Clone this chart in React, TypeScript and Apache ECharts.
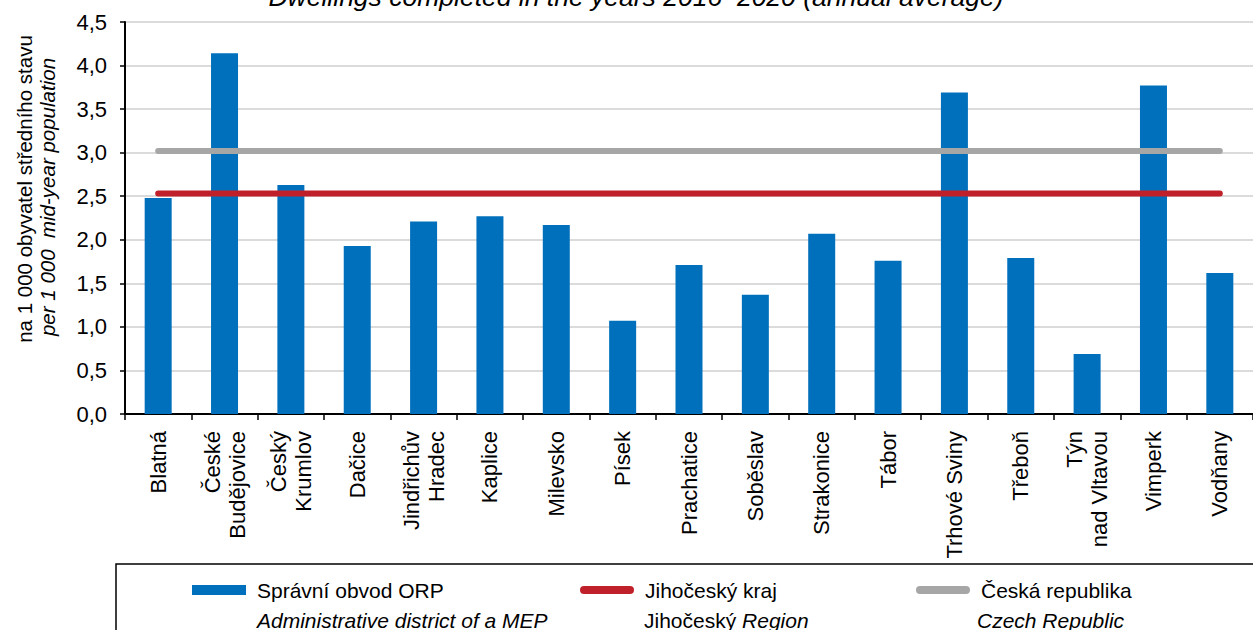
import React, { useEffect, useRef } from "react";
import * as echarts from "echarts";

const categories = [
  "Blatná",
  "České\nBudějovice",
  "Český\nKrumlov",
  "Dačice",
  "Jindřichův\nHradec",
  "Kaplice",
  "Milevsko",
  "Písek",
  "Prachatice",
  "Soběslav",
  "Strakonice",
  "Tábor",
  "Trhové Sviny",
  "Třeboň",
  "Týn\nnad Vltavou",
  "Vimperk",
  "Vodňany",
];

const districtValues = [2.48, 4.14, 2.63, 1.93, 2.21, 2.27, 2.17, 1.07, 1.71, 1.37, 2.07, 1.76, 3.69, 1.79, 0.69, 3.77, 1.62];
const regionValues = [2.53, 2.53, 2.53, 2.53, 2.53, 2.53, 2.53, 2.53, 2.53, 2.53, 2.53, 2.53, 2.53, 2.53, 2.53, 2.53, 2.53];
const czechValues = [3.02, 3.02, 3.02, 3.02, 3.02, 3.02, 3.02, 3.02, 3.02, 3.02, 3.02, 3.02, 3.02, 3.02, 3.02, 3.02, 3.02];

const seriesNames = ["Správní obvod ORP", "Jihočeský kraj", "Česká republika"];
const titleText = "Dwellings completed in the years 2016–2020 (annual average)";
const yNameCz = "na 1 000 obyvatel středního stavu";
const yNameEn = "per 1 000  mid-year population";

const FONT = "'Liberation Sans', Arial, Helvetica, sans-serif";
const BLUE = "#0070bc";
const RED = "#c0202a";
const GRAY = "#a6a6a6";
const LINE_ICON = "path://M4,0 L50,0 A4,4 0 0 1 50,8 L4,8 A4,4 0 0 1 4,0 Z";

export default function App() {
  const ref = useRef<HTMLDivElement>(null);

  useEffect(() => {
    if (!ref.current) return;
    const chart = echarts.init(ref.current, null, { renderer: "svg" });
    const legendBase = {
      top: 578,
      padding: 0,
      itemWidth: 54,
      selectedMode: false,
      textStyle: { fontFamily: FONT, fontSize: 21, color: "#000", padding: [0, 0, 0, 6], lineHeight: 24 },
    };
    chart.setOption({
      animation: false,
      backgroundColor: "#fff",
      grid: { left: 125, right: 0, top: 22, bottom: 216, containLabel: false },
      legend: [
        { ...legendBase, left: 192, itemHeight: 10, data: [{ name: seriesNames[0], icon: "rect" }] },
        { ...legendBase, left: 580, itemHeight: 8, data: [{ name: seriesNames[1], icon: LINE_ICON }] },
        { ...legendBase, left: 916, itemHeight: 8, data: [{ name: seriesNames[2], icon: LINE_ICON }] },
      ],
      xAxis: {
        type: "category",
        data: categories,
        boundaryGap: true,
        axisLine: { lineStyle: { color: "#000", width: 2 } },
        axisTick: { show: true, length: 6, lineStyle: { color: "#000", width: 1.5 } },
        axisLabel: {
          interval: 0,
          rotate: 90,
          margin: 17,
          fontFamily: FONT,
          fontSize: 22,
          lineHeight: 25,
          color: "#000",
        },
        splitLine: { show: false },
      },
      yAxis: {
        type: "value",
        min: 0,
        max: 4.5,
        interval: 0.5,
        axisLine: { show: true, lineStyle: { color: "#000", width: 2 } },
        axisTick: { show: true, length: 5, lineStyle: { color: "#000", width: 1.5 } },
        axisLabel: {
          margin: 18,
          fontFamily: FONT,
          fontSize: 22,
          color: "#000",
          formatter: (v: number) => v.toFixed(1).replace(".", ","),
        },
        splitLine: { show: true, lineStyle: { color: "#cfcfcf", width: 1.5 } },
      },
      series: [
        {
          name: seriesNames[0],
          type: "bar",
          data: districtValues,
          barWidth: 27,
          itemStyle: { color: BLUE },
          z: 2,
        },
        {
          name: seriesNames[1],
          type: "line",
          data: regionValues,
          symbol: "none",
          showSymbol: false,
          lineStyle: { color: RED, width: 6, cap: "round" },
          itemStyle: { color: RED },
          z: 4,
        },
        {
          name: seriesNames[2],
          type: "line",
          data: czechValues,
          symbol: "none",
          showSymbol: false,
          lineStyle: { color: GRAY, width: 6, cap: "round" },
          itemStyle: { color: GRAY },
          z: 3,
        },
      ],
      graphic: [
        {
          type: "text",
          x: 636,
          y: 10,
          style: {
            text: titleText,
            fontFamily: FONT,
            fontSize: 26.5,
            fontStyle: "italic",
            fill: "#000",
            align: "center",
            verticalAlign: "bottom",
          },
        },
        {
          type: "text",
          x: 24,
          y: 189,
          rotation: Math.PI / 2,
          style: {
            text: yNameCz,
            fontFamily: FONT,
            fontSize: 20.5,
            fill: "#000",
            align: "center",
            verticalAlign: "middle",
          },
        },
        {
          type: "text",
          x: 47,
          y: 197,
          rotation: Math.PI / 2,
          style: {
            text: yNameEn,
            fontFamily: FONT,
            fontSize: 20.5,
            fontStyle: "italic",
            fill: "#000",
            align: "center",
            verticalAlign: "middle",
          },
        },
        {
          type: "rect",
          shape: { x: 116, y: 564, width: 1150, height: 90 },
          style: { fill: "none", stroke: "#000", lineWidth: 1.5 },
          z: -1,
        },
        {
          type: "text",
          x: 257,
          y: 620,
          style: {
            text: "Administrative district of a MEP",
            fontFamily: FONT,
            fontSize: 21,
            fontStyle: "italic",
            fill: "#000",
            verticalAlign: "middle",
          },
        },
        {
          type: "text",
          x: 644,
          y: 620,
          style: {
            text: "{n|Jihočeský }{i|Region}",
            fontFamily: FONT,
            fontSize: 21,
            fill: "#000",
            verticalAlign: "middle",
            rich: {
              n: { fontFamily: FONT, fontSize: 21, fill: "#000" },
              i: { fontFamily: FONT, fontSize: 21, fontStyle: "italic", fill: "#000" },
            },
          },
        },
        {
          type: "text",
          x: 977,
          y: 620,
          style: {
            text: "Czech Republic",
            fontFamily: FONT,
            fontSize: 21,
            fontStyle: "italic",
            fill: "#000",
            verticalAlign: "middle",
          },
        },
      ],
    });
    return () => chart.dispose();
  }, []);

  return (
    <div
      ref={ref}
      style={{ position: "fixed", left: 0, top: 0, width: 1253, height: 630 }}
    />
  );
}
